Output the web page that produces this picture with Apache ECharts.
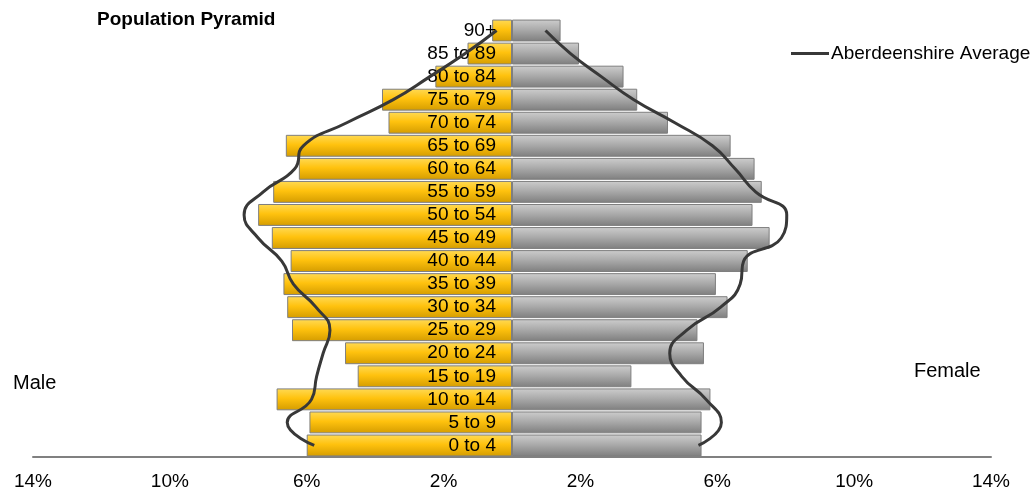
<!DOCTYPE html>
<html>
<head>
<meta charset="utf-8">
<script src="https://cdn.jsdelivr.net/npm/echarts@6/dist/echarts.min.js"></script>
<style>
html,body{margin:0;padding:0;background:#fff;}
#chart{width:1035px;height:492px;}
</style>
</head>
<body>
<div id="chart"></div>
<script>
const categories = ['0 to 4','5 to 9','10 to 14','15 to 19','20 to 24','25 to 29','30 to 34','35 to 39','40 to 44','45 to 49','50 to 54','55 to 59','60 to 64','65 to 69','70 to 74','75 to 79','80 to 84','85 to 89','90+'];
const male = [6.00,5.92,6.88,4.51,4.88,6.43,6.57,6.68,6.47,7.02,7.42,6.98,6.23,6.61,3.61,3.80,2.24,1.30,0.58];
const female = [5.54,5.54,5.80,3.49,5.61,5.42,6.30,5.96,6.89,7.53,7.03,7.30,7.09,6.39,4.56,3.66,3.26,1.96,1.42];
const maleAvg = [5.78,6.57,5.86,5.71,5.52,5.32,5.73,6.39,6.73,7.42,7.83,7.27,6.35,6.10,4.83,3.47,2.40,1.37,0.45];
const femaleAvg = [5.45,6.12,5.67,4.96,4.61,5.11,6.10,6.67,6.77,7.87,8.03,7.12,6.52,5.86,4.76,3.56,2.61,1.71,0.98];
const FONT = "'Liberation Sans', Arial, sans-serif";

const chart = echarts.init(document.getElementById('chart'), null, {renderer:'canvas'});
const maleGrad = new echarts.graphic.LinearGradient(0,0,0,1,[
  {offset:0,color:'#FFDA55'},{offset:0.45,color:'#FFC20E'},{offset:1,color:'#D49C00'}]);
const femGrad = new echarts.graphic.LinearGradient(0,0,0,1,[
  {offset:0,color:'#CDCDCD'},{offset:0.45,color:'#ABABAB'},{offset:1,color:'#7E7E7E'}]);

chart.setOption({
  animation:false,
  title:{text:'Population Pyramid',left:92,top:5,
    textStyle:{fontFamily:FONT,fontSize:19,fontWeight:'bold',color:'#000'}},
  legend:{left:786,top:39,itemWidth:38,itemHeight:3,itemGap:5,
    data:[{name:'Aberdeenshire Average',icon:'rect'}],
    itemStyle:{color:'#383838'},
    textStyle:{fontFamily:FONT,fontSize:19,color:'#000',padding:[0,0,0,-3]}},
  grid:{left:33,right:44,top:19,bottom:35,containLabel:false,outerBoundsMode:'none'},
  xAxis:{type:'value',min:-14,max:14,interval:4,
    axisLine:{show:true,lineStyle:{color:'#808080',width:2}},
    axisTick:{show:false},splitLine:{show:false},
    axisLabel:{margin:15,fontFamily:FONT,fontSize:19,color:'#000',
      formatter:v=>Math.abs(v)+'%'}},
  yAxis:{type:'category',data:categories,z:5,position:'left',offset:-479,
    axisLine:{show:false},axisTick:{show:false},
    axisLabel:{interval:0,margin:16,fontFamily:FONT,fontSize:19,color:'#000'}},
  graphic:[
    {type:'text',x:13,y:383,z:10,style:{text:'Male',fontFamily:FONT,fontSize:20,fill:'#000',verticalAlign:'middle'}},
    {type:'text',x:914,y:371,z:10,style:{text:'Female',fontFamily:FONT,fontSize:20,fill:'#000',verticalAlign:'middle'}}
  ],
  series:[
    {name:'Male',type:'bar',data:male.map(v=>-v),barWidth:'95%',barGap:'-100%',z:2,
      itemStyle:{color:maleGrad,borderColor:'#7f7f7f',borderWidth:1}},
    {name:'Female',type:'bar',data:female,barWidth:'95%',barGap:'-100%',z:2,
      itemStyle:{color:femGrad,borderColor:'#7f7f7f',borderWidth:1}},
    {name:'Aberdeenshire Average',type:'line',data:maleAvg.map(v=>-v),smooth:0.5,symbol:'none',z:8,
      lineStyle:{color:'#383838',width:3},itemStyle:{color:'#383838'}},
    {name:'Aberdeenshire Average',type:'line',data:femaleAvg,smooth:0.5,symbol:'none',z:8,
      lineStyle:{color:'#383838',width:3},itemStyle:{color:'#383838'}}
  ]
});
</script>
</body>
</html>
